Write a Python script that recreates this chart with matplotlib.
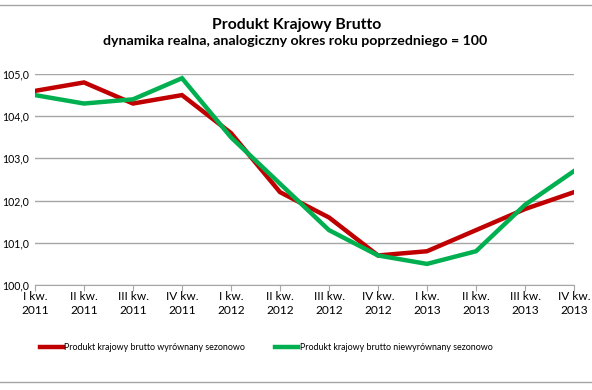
import matplotlib
matplotlib.use("Agg")
import matplotlib.pyplot as plt
from matplotlib.lines import Line2D

plt.rcParams['font.family'] = ['Lato', 'DejaVu Sans']

categories = ["I kw.\n2011", "II kw.\n2011", "III kw.\n2011", "IV kw.\n2011",
              "I kw.\n2012", "II kw.\n2012", "III kw.\n2012", "IV kw.\n2012",
              "I kw.\n2013", "II kw.\n2013", "III kw.\n2013", "IV kw.\n2013"]
seasonally_adjusted = [104.6, 104.8, 104.3, 104.5, 103.6, 102.2, 101.6, 100.7, 100.8, 101.3, 101.8, 102.2]
not_adjusted = [104.5, 104.3, 104.4, 104.9, 103.5, 102.4, 101.3, 100.7, 100.5, 100.8, 101.9, 102.7]
yticks = [100, 101, 102, 103, 104, 105]
ytick_labels = ["100,0", "101,0", "102,0", "103,0", "104,0", "105,0"]
label_adj = "Produkt krajowy brutto wyrównany sezonowo"
label_nadj = "Produkt krajowy brutto niewyrównany sezonowo"
title = "Produkt Krajowy Brutto"
subtitle = "dynamika realna, analogiczny okres roku poprzedniego = 100"

RED = "#C00000"
GREEN = "#00B050"
GRID = "#A6A6A6"

fig = plt.figure(figsize=(5.92, 3.90), dpi=100)
ax = fig.add_axes([35/592, (390-285)/390, (574-35)/592, (285-74)/390])

x = list(range(len(categories)))
ax.plot(x, seasonally_adjusted, color=RED, lw=3.2, solid_joinstyle='miter')
ax.plot(x, not_adjusted, color=GREEN, lw=3.2, solid_joinstyle='miter')

ax.set_xlim(0, len(categories) - 1)
ax.set_ylim(100, 105)
ax.set_yticks(yticks)
ax.set_yticklabels(ytick_labels, fontsize=7.6)
ax.set_xticks(x)
ax.set_xticklabels(categories, fontsize=8.6, linespacing=1.3)
ax.tick_params(axis='y', length=0, pad=4.5)
ax.tick_params(axis='x', length=4, color=GRID, pad=0.5)
ax.grid(axis='y', color=GRID, lw=1)
ax.set_axisbelow(True)
for s in ['top', 'right', 'left']:
    ax.spines[s].set_visible(False)
ax.spines['bottom'].set_color(GRID)

fig.text(297/592, 1 - 25/390, title, ha='center', va='center', fontsize=11.3, fontweight='bold')
fig.text(295/592, 1 - 41/390, subtitle, ha='center', va='center', fontsize=10.2, fontweight='bold')

# legend
fig.add_artist(Line2D([40/592, 63/592], [1 - 347/390] * 2, color=RED, lw=3.2))
fig.text(64/592, 1 - 347/390, label_adj, ha='left', va='center', fontsize=6.4)
fig.add_artist(Line2D([275/592, 298/592], [1 - 347/390] * 2, color=GREEN, lw=3.2))
fig.text(300/592, 1 - 347/390, label_nadj, ha='left', va='center', fontsize=6.4)

# frame lines
fig.add_artist(Line2D([0, 1], [1 - 4.5/390] * 2, color=GRID, lw=1))
fig.add_artist(Line2D([0, 1], [1 - 382/390] * 2, color=GRID, lw=1))

fig.savefig("out.png", dpi=100)
